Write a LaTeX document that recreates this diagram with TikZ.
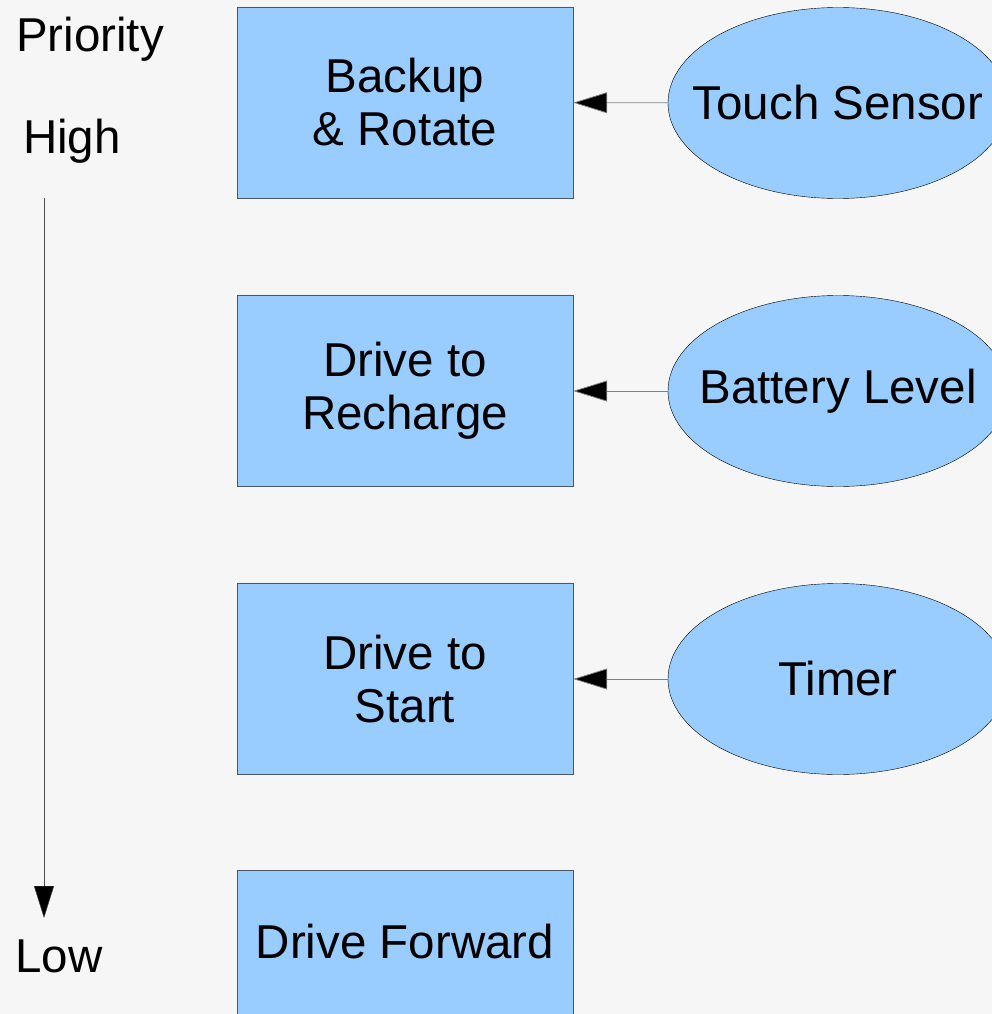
\documentclass[tikz,border=0pt]{standalone}
\usepackage{fontspec}
\setmainfont{Liberation Sans}
\usetikzlibrary{shapes.geometric, arrows.meta}

\definecolor{behfill}{HTML}{99CCFF}
\definecolor{behline}{HTML}{4A5562}
\definecolor{backgr}{HTML}{F6F6F6}

\begin{document}
\begin{tikzpicture}[
    x=1pt, y=-1pt,
    every node/.style={font=\fontsize{47.5}{53}\selectfont},
    behavior/.style={draw=behline, fill=behfill, rectangle, minimum width=336pt,
        minimum height=191pt, inner sep=0pt, align=center},
    sensor/.style={draw=black, fill=behfill, ellipse, minimum width=340pt,
        minimum height=191pt, inner sep=0pt, label={center:#1}},
    trigger/.style={draw=gray, line width=0.8pt, -{Triangle[length=34pt, width=21pt, fill=black]}},
    plaintext/.style={inner sep=0pt, anchor=center}
]

% page and background
\useasboundingbox (0,0) rectangle (992,1014);
\clip (0,0) rectangle (992,1014);
\fill[backgr] (0,0) rectangle (992,1014);

% priority scale
\node[plaintext] (prio) at (90,39) {Priority};
\node[plaintext] (high) at (72,141) {High};
\node[plaintext] (low) at (59,956) {Low};
\coordinate (top) at (44,198);
\coordinate (bottom) at (44,918);
\draw[black!70, -{Triangle[length=32pt, width=20pt, fill=black]}] (top) -- (bottom);

% behaviors
\node[behavior] (backup) at (405,102.5) {Backup\\\& Rotate};
\node[behavior] (recharge) at (405,391) {Drive to\\Recharge};
\node[behavior] (start) at (405,679) {Drive to\\Start};
\node[behavior, minimum height=148pt] (forward) at (405,944) {};
\node[plaintext] (fwdtext) at (405,942) {Drive Forward};

% sensors
\node[sensor=Touch Sensor] (touch) at (838,103) {};
\node[sensor=Battery Level] (battery) at (838,391) {};
\node[sensor=Timer] (timer) at (838,679) {};

% sensor triggers
\draw[trigger] (touch) -- (backup);
\draw[trigger] (battery) -- (recharge);
\draw[trigger] (timer) -- (start);
\end{tikzpicture}
\end{document}
